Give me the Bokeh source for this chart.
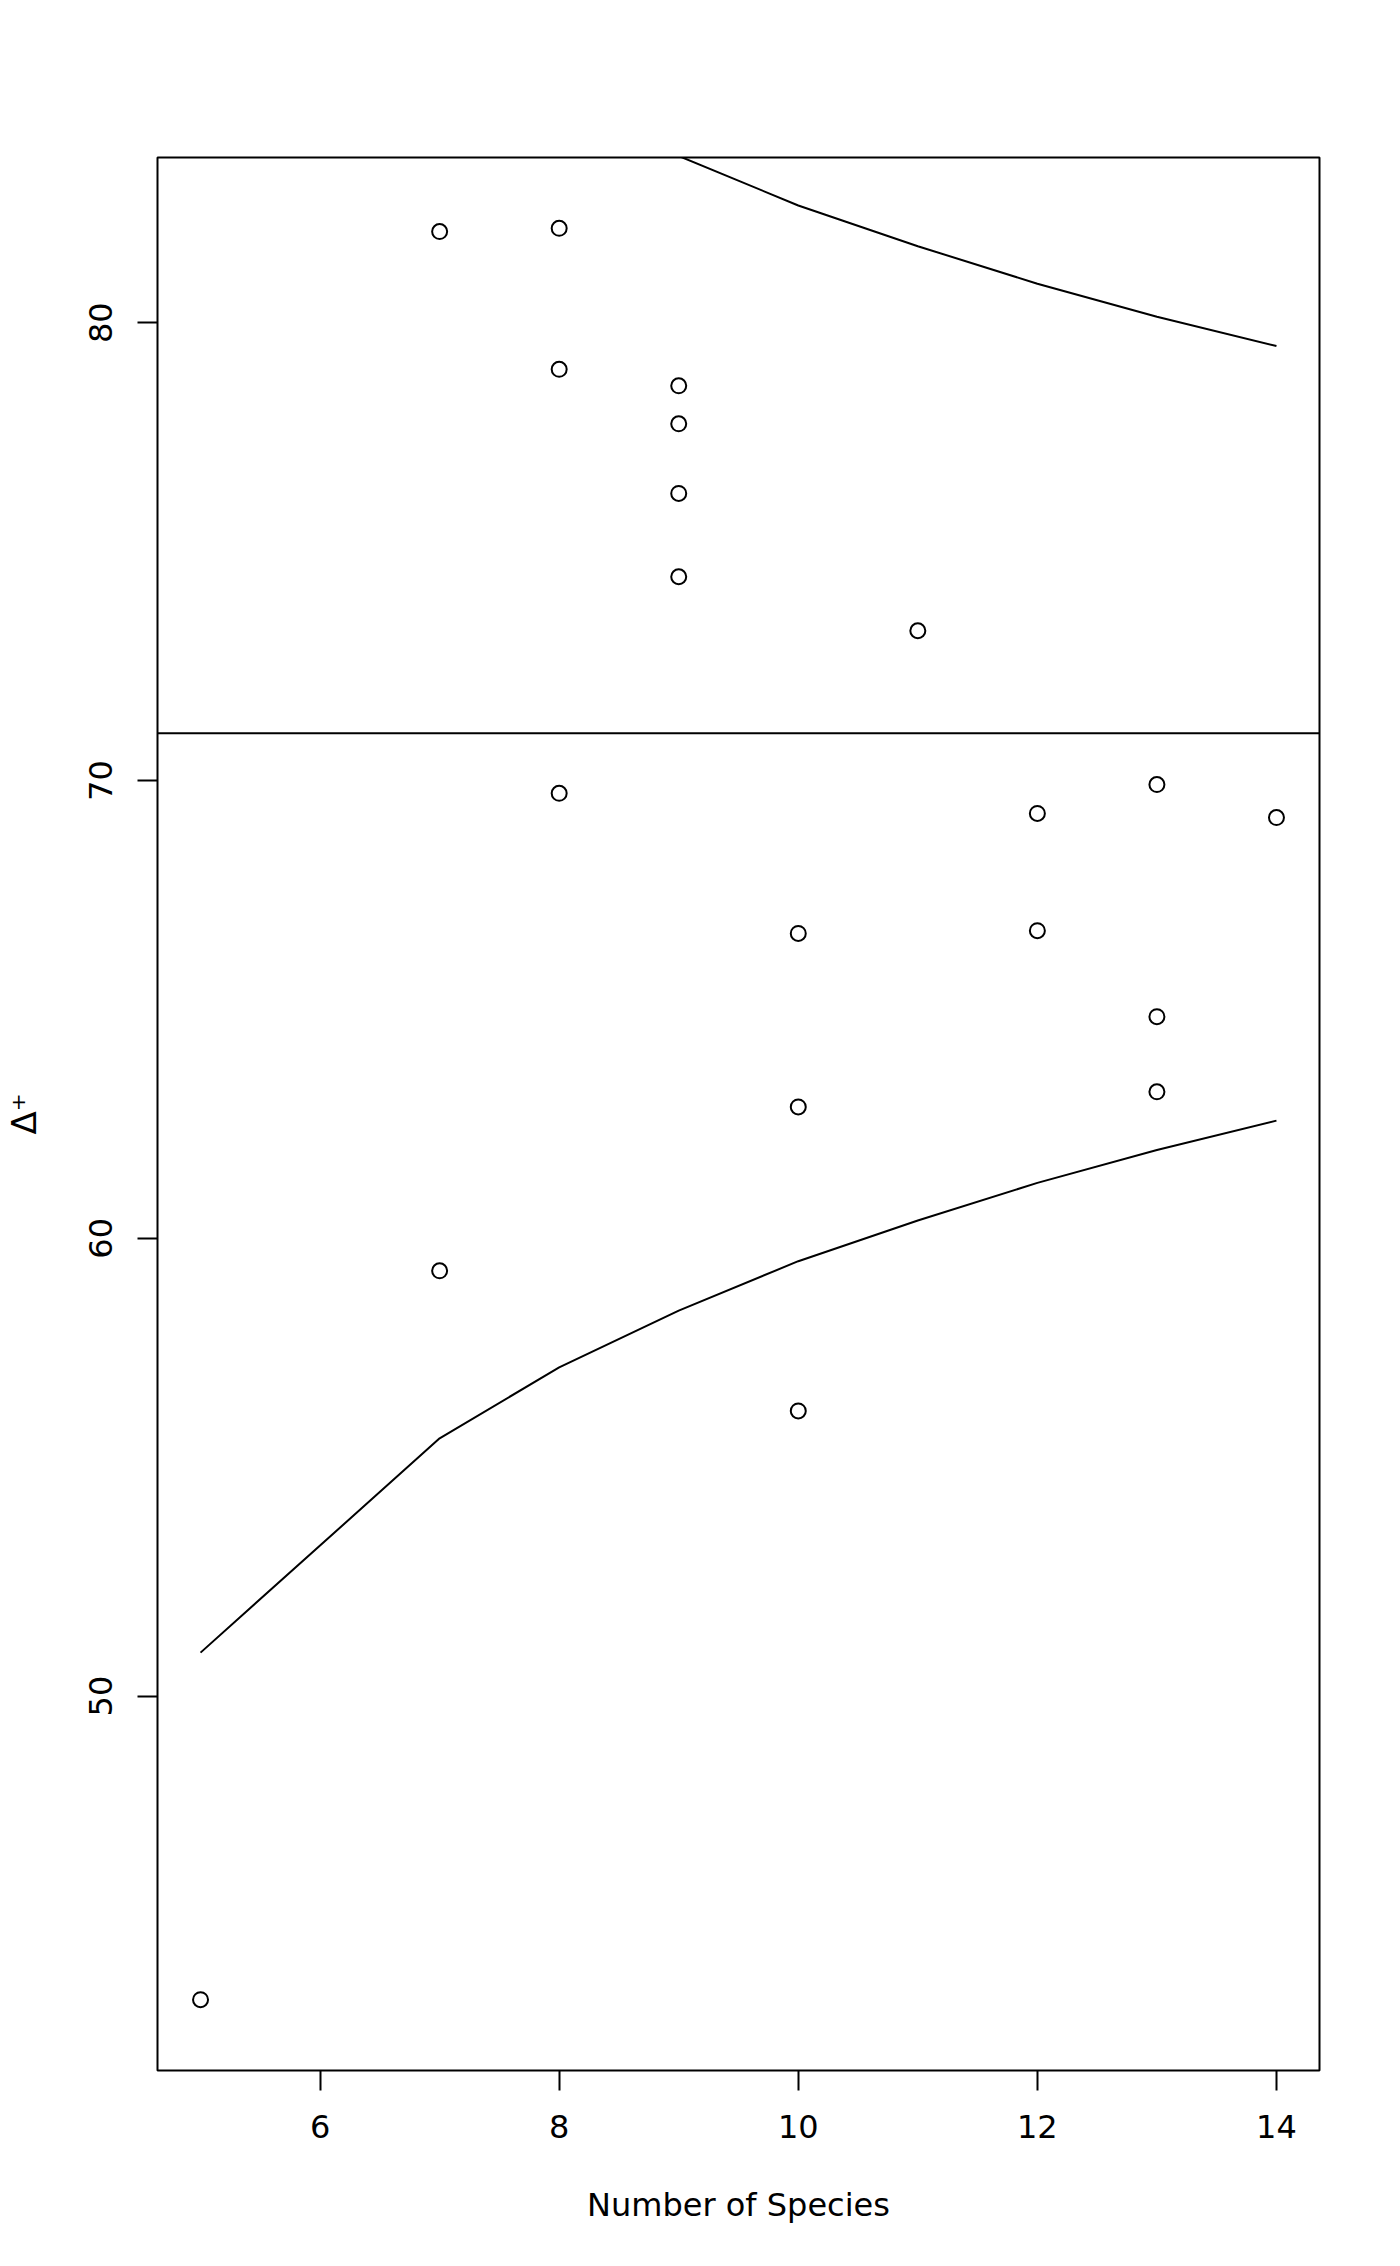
from bokeh.plotting import figure
from bokeh.models import Range1d, FixedTicker, Span
from bokeh.embed import file_html
from bokeh.resources import INLINE

# Observed samples: number of species vs average taxonomic distinctness
species = [7, 8, 8, 9, 9, 9, 9, 11, 8, 13, 12, 14, 10, 12, 13, 10, 13, 7, 10, 5]
delta_plus = [81.99, 82.06, 78.98, 78.62, 77.79, 76.27, 74.45, 73.27, 69.72, 69.91,
              69.28, 69.19, 66.66, 66.72, 64.84, 62.87, 63.20, 59.29, 56.23, 43.37]

# Funnel (95% limits) and expected mean
limit_species = [5, 7, 8, 9, 10, 11, 12, 13, 14]
lower_limit = [50.95, 55.63, 57.18, 58.42, 59.50, 60.39, 61.21, 61.93, 62.57]
upper_limit = [91.11, 86.43, 84.88, 83.64, 82.56, 81.67, 80.85, 80.13, 79.49]
expected_mean = 71.03

x_ticks = [6, 8, 10, 12, 14]
y_ticks = [50, 60, 70, 80]

FONT = "DejaVu Sans"

# R-style 4% range extension
xmin, xmax = min(species), max(species)
ymin, ymax = min(delta_plus), max(delta_plus)
dx = (xmax - xmin) * 0.04
dy = (ymax - ymin) * 0.04

p = figure(width=1392, height=2258, output_backend="svg", toolbar_location=None,
           x_range=Range1d(xmin - dx, xmax + dx), y_range=Range1d(ymin - dy, ymax + dy),
           min_border_left=157, min_border_right=73, min_border_top=157, min_border_bottom=188,
           background_fill_color="white", border_fill_color="white")

p.outline_line_color = "black"
p.outline_line_width = 2
p.xgrid.visible = False
p.ygrid.visible = False

for ax in (p.xaxis[0], p.yaxis[0]):
    ax.axis_line_color = None
    ax.major_tick_line_color = "black"
    ax.major_tick_line_width = 2
    ax.major_tick_out = 20
    ax.major_tick_in = 0
    ax.minor_tick_line_color = None
    ax.major_label_text_font = FONT
    ax.major_label_text_font_size = "32px"
    ax.major_label_text_color = "black"
    ax.axis_label_text_font = FONT
    ax.axis_label_text_font_style = "normal"
    ax.axis_label_text_color = "black"

p.xaxis.ticker = FixedTicker(ticks=x_ticks)
p.yaxis.ticker = FixedTicker(ticks=y_ticks)
p.yaxis.major_label_orientation = "vertical"
p.xaxis.major_label_standoff = 24
p.yaxis.major_label_standoff = 25

p.xaxis.axis_label = "Number of Species"
p.xaxis.axis_label_text_font_size = "32px"
p.xaxis.axis_label_standoff = 45

p.yaxis.axis_label = "Δ⁺"
p.yaxis.axis_label_text_font_size = "34px"
p.yaxis.axis_label_standoff = 43

p.line(limit_species, lower_limit, line_color="black", line_width=2)
p.line(limit_species, upper_limit, line_color="black", line_width=2)
p.add_layout(Span(location=expected_mean, dimension="width", line_color="black", line_width=2))

p.scatter(species, delta_plus, marker="circle", size=15, fill_color=None,
          line_color="black", line_width=2)

open("out.html", "w").write(file_html(p, INLINE))
